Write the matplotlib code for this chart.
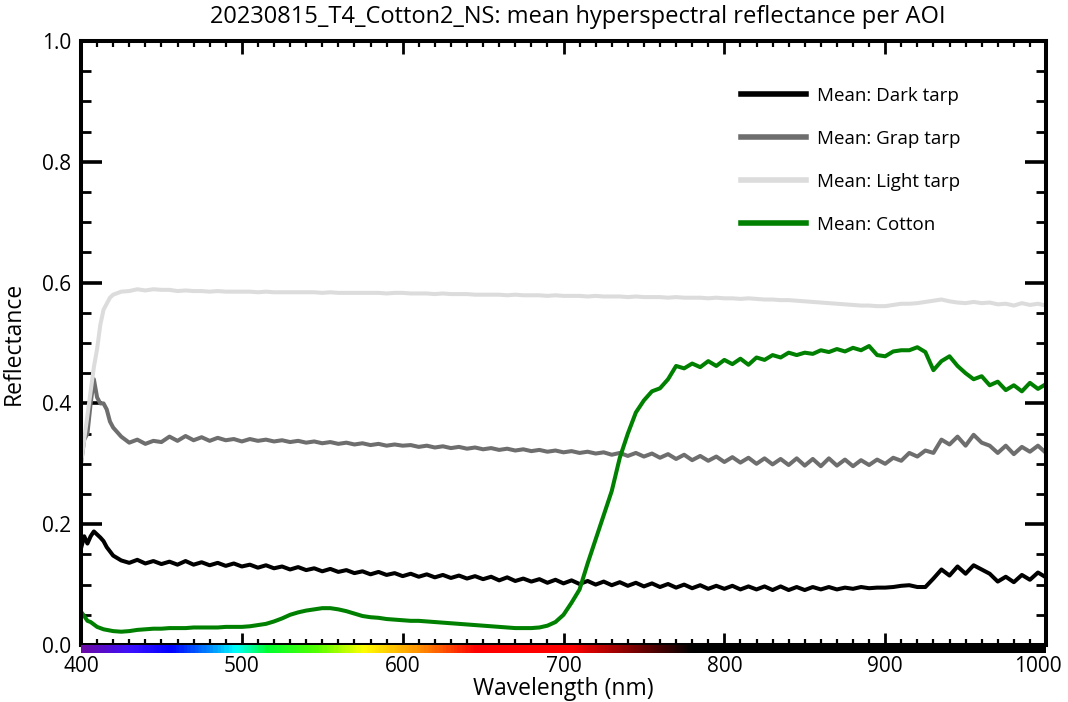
import numpy as np
import matplotlib
matplotlib.use("Agg")
import matplotlib.pyplot as plt
from matplotlib.colors import LinearSegmentedColormap
from matplotlib.transforms import ScaledTranslation

plt.rcParams['font.family'] = ['Open Sans', 'DejaVu Sans']

title = "20230815_T4_Cotton2_NS: mean hyperspectral reflectance per AOI"

# band centres (nm): fine steps over the blue edge, 5 nm after that
wavelength = np.concatenate([np.arange(400, 421, 2), np.arange(425, 1001, 5)])

dark_tarp = [
    0.160, 0.180, 0.168, 0.180, 0.188, 0.183, 0.178, 0.172, 0.162, 0.155, 0.148,
    0.140, 0.136, 0.141, 0.135, 0.139, 0.134, 0.138, 0.133, 0.139, 0.133, 0.137,
    0.132, 0.136, 0.131, 0.135, 0.130, 0.133, 0.128, 0.132, 0.127, 0.130, 0.125,
    0.129, 0.124, 0.127, 0.122, 0.126, 0.121, 0.124, 0.119, 0.122, 0.117, 0.121,
    0.116, 0.119, 0.114, 0.118, 0.113, 0.117, 0.112, 0.116, 0.111, 0.115, 0.110,
    0.114, 0.109, 0.113, 0.107, 0.112, 0.106, 0.110, 0.105, 0.109, 0.103, 0.108,
    0.102, 0.107, 0.101, 0.106, 0.100, 0.105, 0.099, 0.104, 0.098, 0.103, 0.097,
    0.102, 0.096, 0.101, 0.095, 0.100, 0.094, 0.099, 0.093, 0.098, 0.093, 0.098,
    0.092, 0.097, 0.092, 0.097, 0.091, 0.097, 0.091, 0.096, 0.091, 0.096, 0.092,
    0.096, 0.092, 0.095, 0.093, 0.096, 0.094, 0.095, 0.095, 0.096, 0.098, 0.099,
    0.096, 0.096, 0.110, 0.125, 0.115, 0.130, 0.118, 0.132, 0.125, 0.118, 0.105,
    0.113, 0.104, 0.116, 0.108, 0.120, 0.112,
]

grey_tarp = [
    0.300, 0.340, 0.350, 0.400, 0.440, 0.410, 0.400, 0.400, 0.390, 0.370, 0.360,
    0.345, 0.335, 0.340, 0.333, 0.338, 0.336, 0.345, 0.338, 0.346, 0.339, 0.344,
    0.338, 0.343, 0.339, 0.341, 0.337, 0.341, 0.338, 0.340, 0.337, 0.339, 0.336,
    0.338, 0.335, 0.337, 0.334, 0.336, 0.333, 0.335, 0.332, 0.334, 0.331, 0.333,
    0.330, 0.332, 0.330, 0.331, 0.328, 0.330, 0.327, 0.329, 0.326, 0.328, 0.325,
    0.327, 0.324, 0.326, 0.323, 0.325, 0.322, 0.324, 0.321, 0.323, 0.320, 0.322,
    0.319, 0.321, 0.318, 0.320, 0.317, 0.319, 0.315, 0.318, 0.313, 0.318, 0.312,
    0.317, 0.310, 0.316, 0.308, 0.315, 0.306, 0.313, 0.305, 0.312, 0.303, 0.311,
    0.302, 0.310, 0.300, 0.309, 0.299, 0.308, 0.298, 0.309, 0.297, 0.308, 0.296,
    0.309, 0.297, 0.307, 0.296, 0.306, 0.298, 0.307, 0.300, 0.310, 0.305, 0.318,
    0.312, 0.322, 0.318, 0.340, 0.332, 0.345, 0.330, 0.348, 0.335, 0.330, 0.318,
    0.330, 0.316, 0.328, 0.320, 0.330, 0.318,
]

light_tarp = [
    0.300, 0.340, 0.380, 0.420, 0.460, 0.490, 0.530, 0.555, 0.565, 0.575, 0.580,
    0.585, 0.586, 0.589, 0.587, 0.589, 0.588, 0.588, 0.586, 0.587, 0.586, 0.586,
    0.585, 0.586, 0.585, 0.585, 0.585, 0.585, 0.584, 0.585, 0.584, 0.584, 0.584,
    0.584, 0.584, 0.584, 0.583, 0.584, 0.583, 0.583, 0.583, 0.583, 0.583, 0.583,
    0.582, 0.583, 0.583, 0.582, 0.582, 0.582, 0.581, 0.582, 0.581, 0.581, 0.581,
    0.580, 0.580, 0.580, 0.580, 0.579, 0.580, 0.579, 0.579, 0.579, 0.578, 0.579,
    0.578, 0.578, 0.578, 0.577, 0.578, 0.577, 0.577, 0.577, 0.576, 0.577, 0.576,
    0.576, 0.576, 0.575, 0.576, 0.575, 0.575, 0.575, 0.574, 0.575, 0.574, 0.574,
    0.573, 0.574, 0.573, 0.572, 0.572, 0.571, 0.571, 0.570, 0.569, 0.568, 0.567,
    0.566, 0.565, 0.564, 0.563, 0.562, 0.562, 0.561, 0.561, 0.563, 0.565, 0.565,
    0.566, 0.568, 0.570, 0.572, 0.569, 0.567, 0.566, 0.568, 0.566, 0.567, 0.564,
    0.565, 0.562, 0.566, 0.563, 0.565, 0.562,
]

cotton = [
    0.055, 0.048, 0.040, 0.038, 0.034, 0.030, 0.028, 0.026, 0.025, 0.024, 0.023,
    0.022, 0.023, 0.025, 0.026, 0.027, 0.027, 0.028, 0.028, 0.028, 0.029, 0.029,
    0.029, 0.029, 0.030, 0.030, 0.030, 0.031, 0.033, 0.035, 0.039, 0.044, 0.050,
    0.054, 0.057, 0.059, 0.061, 0.061, 0.059, 0.056, 0.052, 0.048, 0.046, 0.045,
    0.043, 0.042, 0.041, 0.040, 0.040, 0.039, 0.038, 0.037, 0.036, 0.035, 0.034,
    0.033, 0.032, 0.031, 0.030, 0.029, 0.028, 0.028, 0.028, 0.029, 0.032, 0.038,
    0.050, 0.070, 0.092, 0.135, 0.175, 0.215, 0.255, 0.310, 0.350, 0.385, 0.405,
    0.420, 0.425, 0.440, 0.462, 0.458, 0.466, 0.460, 0.470, 0.462, 0.472, 0.465,
    0.474, 0.464, 0.476, 0.472, 0.480, 0.476, 0.484, 0.480, 0.484, 0.482, 0.488,
    0.485, 0.490, 0.486, 0.492, 0.488, 0.495, 0.480, 0.478, 0.486, 0.488, 0.488,
    0.493, 0.485, 0.455, 0.470, 0.478, 0.462, 0.450, 0.440, 0.445, 0.430, 0.436,
    0.422, 0.430, 0.420, 0.434, 0.424, 0.432,
]

series = [
    ("Mean: Dark tarp", dark_tarp, "black"),
    ("Mean: Grap tarp", grey_tarp, "#6e6e6e"),
    ("Mean: Light tarp", light_tarp, "#dcdcdc"),
    ("Mean: Cotton", cotton, "green"),
]

W, H = 1068, 702
fig = plt.figure(figsize=(W / 100, H / 100), dpi=100)
ax = fig.add_axes([81 / W, 57 / H, 965 / W, 604 / H])

for label, values, color in series:
    ax.plot(wavelength, values, color=color, lw=2.9, label=label)

ax.set_xlim(400, 1000)
ax.set_ylim(0, 1)
ax.set_xticks(np.arange(400, 1001, 100))
ax.set_xticks(np.arange(400, 1001, 10), minor=True)
ax.set_yticks(np.arange(0, 1.01, 0.2))
ax.set_yticks(np.arange(0, 1.01, 0.05), minor=True)
ax.yaxis.set_major_formatter(matplotlib.ticker.FormatStrFormatter("%.1f"))

for s in ax.spines.values():
    s.set_linewidth(2.9)
ax.tick_params(axis="both", which="both", direction="in", top=True, right=True,
               labelsize=15, colors="black")
ax.tick_params(axis="x", which="major", length=9, width=2, pad=8)
ax.tick_params(axis="x", which="minor", length=4.5, width=1.6)
ax.tick_params(axis="y", which="major", length=15, width=2.6, pad=7)
ax.tick_params(axis="y", which="minor", length=7, width=2)

# keep the last wavelength label inside the figure
fig.canvas.draw()
last = ax.get_xticklabels()[-1]
last.set_transform(last.get_transform() + ScaledTranslation(-8 / 100, 0, fig.dpi_scale_trans))

ax.set_xlabel("Wavelength (nm)", fontsize=16.5, labelpad=0)
ax.set_ylabel("Reflectance", fontsize=16.5, labelpad=12)
ax.set_title(title, fontsize=17, pad=13, x=0.515)

leg = ax.legend(loc="upper left", bbox_to_anchor=(0.666, 0.952), frameon=False,
                fontsize=13.5, handlelength=3.5, labelspacing=1.33,
                handletextpad=0.6)
for line in leg.get_lines():
    line.set_linewidth(4)

# visible-spectrum strip under the wavelength axis
stops = [(400, "#6a0aa8"), (430, "#3a10ff"), (455, "#0000ff"), (480, "#0090ff"),
         (495, "#00ffff"), (515, "#00ff30"), (545, "#50ff00"), (575, "#ffff00"),
         (610, "#ff9000"), (645, "#ff0000"), (705, "#ff0000"), (780, "#000000"),
         (1000, "#000000")]
spec = LinearSegmentedColormap.from_list(
    "spectrum", [((w - 400) / 600, c) for w, c in stops])
cax = fig.add_axes([81 / W, 49 / H, 965 / W, 8 / H])
cax.imshow(np.linspace(0, 1, 600)[None, :], cmap=spec, aspect="auto",
           extent=[400, 1000, 0, 1])
cax.set_axis_off()

fig.savefig("out.png", dpi=100)
